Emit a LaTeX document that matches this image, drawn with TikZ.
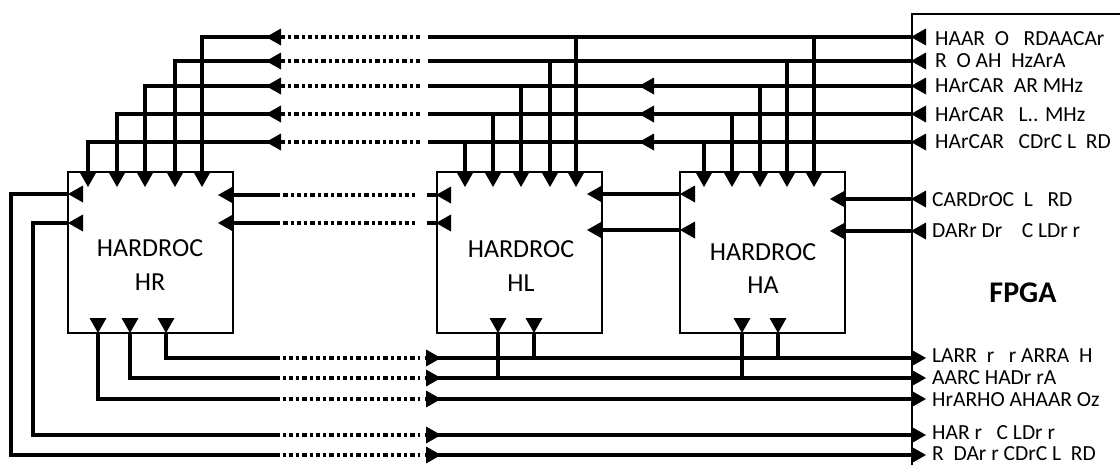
\documentclass[tikz,border=0pt]{standalone}
\usepackage{fontspec}
\setmainfont{Carlito}
\newcommand\tipL[2]{\fill (#1,#2) -- ++(15,-8.5) -- ++(0,17) -- cycle;}
\newcommand\tipR[2]{\fill (#1,#2) -- ++(-15,-8.5) -- ++(0,17) -- cycle;}
\newcommand\tipD[2]{\fill (#1,#2) -- ++(-8.5,-15) -- ++(17,0) -- cycle;}
\begin{document}
\begin{tikzpicture}[x=1pt,y=-1pt,
  wire/.style={line width=3.2pt},
  dots/.style={line width=3.2pt, dash pattern=on 4.5pt off 3pt on 3pt off 3pt},
  chip/.style={draw, line width=2pt, minimum width=165pt, minimum height=161pt, inner sep=0pt},
  chipname/.style={font=\fontsize{26}{30}\selectfont, anchor=base, inner sep=0pt},
  lbl/.style={font=\fontsize{21.5}{24}\selectfont, anchor=base west, inner sep=0pt}]
\useasboundingbox (0,0) rectangle (1120,464);

% boxes
\node[chip] (HR) at (150.5,252.5) {};
\node[chip] (HL) at (519,252.5) {};
\node[chip] (HA) at (762.5,252.5) {};
\node[draw, line width=2pt, anchor=north west, minimum width=260pt, minimum height=480pt, inner sep=0pt] (FPGA) at (911,13) {};

% chip names
\node[chipname] (HRa) at (150,256.5) {HARDROC};
\node[chipname] (HRb) at (150,290.5) {HR};
\node[chipname] (HLa) at (521,257.5) {HARDROC};
\node[chipname] (HLb) at (521,291.5) {HL};
\node[chipname] (HAa) at (763,260.5) {HARDROC};
\node[chipname] (HAb) at (763,293.5) {HA};
\node[font=\bfseries\fontsize{30}{36}\selectfont, anchor=base, inner sep=0pt] (FPGAt) at (1023,302) {FPGA};

% top bus from FPGA
\foreach \y/\a/\b/\c in {37/202/576/814, 61/175/550/787, 86/145/521/760, 114/117/493/732, 142/88/465/704} {
  \draw[wire] (FPGA.west |- 0,\y) -- (428,\y);
  \draw[dots] (420,\y) -- (283,\y);
  \draw[wire] (283,\y) -| (\a,172);
  \draw[wire] (\b,\y) -- (\b,172);
  \draw[wire] (\c,\y) -- (\c,172);
  \tipL{911}{\y}
  \tipL{266}{\y}
  \tipD{\a}{187}
  \tipD{\b}{187}
  \tipD{\c}{187}
}
\foreach \y in {86,114,142} { \tipL{639}{\y} }

% HL -> HR
\foreach \y in {195,223} {
  \draw[wire] (HR.east |- 0,\y) -- (280,\y);
  \draw[dots] (283,\y) -- (418,\y);
  \draw[wire] (427,\y) -- (HL.west |- 0,\y);
  \tipL{218}{\y}
  \tipL{436}{\y}
}
% HA -> HL
\foreach \y in {194,230} {
  \draw[wire] (HL.east |- 0,\y) -- (HA.west |- 0,\y);
  \tipL{587}{\y}
  \tipL{680}{\y}
}
% FPGA -> HA
\foreach \y in {199,231} {
  \draw[wire] (HA.east |- 0,\y) -- (FPGA.west |- 0,\y);
  \tipL{830}{\y}
  \tipL{911}{\y}
}

% bottom bus to FPGA
\draw[wire] (HR.west |- 0,194) -| (11,455) -- (275,455);
\draw[wire] (HR.west |- 0,223) -| (33,435) -- (275,435);
\draw[wire] (98,333) |- (275,399);
\draw[wire] (130,333) |- (275,378);
\draw[wire] (166,333) |- (275,358);
\tipL{68}{194}
\tipL{68}{223}
\foreach \x in {98,130,166,498,534,742,778} { \tipD{\x}{333} }
\draw[wire] (534,333) -- (534,358);
\draw[wire] (498,333) -- (498,378);
\draw[wire] (778,333) -- (778,358);
\draw[wire] (742,333) -- (742,378);
\foreach \y in {358,378,399,435,455} {
  \draw[dots] (275,\y) -- (420,\y);
  \draw[wire] (425,\y) -- (FPGA.west |- 0,\y);
  \tipR{441}{\y}
  \tipR{926}{\y}
}

% FPGA labels
\node[lbl] (l1) at (935,45) {HAAR\ \ O\ \ \ RDAACAr};
\node[lbl] (l2) at (935,67) {R\ \ O AH\ \ HzArA};
\node[lbl] (l3) at (935,92) {HArCAR\ \ AR MHz};
\node[lbl] (l4) at (935,121) {HArCAR\ \ \ L.. MHz};
\node[lbl] (l5) at (935,148) {HArCAR\ \ \ CDrC L\ \ RD};
\node[lbl] (l6) at (932,206) {CARDrOC\ \ L\ \ \ RD};
\node[lbl] (l7) at (932,237) {DARr Dr\ \ \ \ C LDr r};
\node[lbl] (l8) at (932,362) {LARR\ \ r\ \ \ r ARRA\ \ H};
\node[lbl] (l9) at (932,384) {AARC HADr rA};
\node[lbl] (l10) at (932,406) {HrARHO AHAAR Oz};
\node[lbl] (l11) at (932,439) {HAR r\ \ \ C LDr r};
\node[lbl] (l12) at (932,460) {R\ \ DAr r CDrC L\ \ RD};
\end{tikzpicture}
\end{document}
